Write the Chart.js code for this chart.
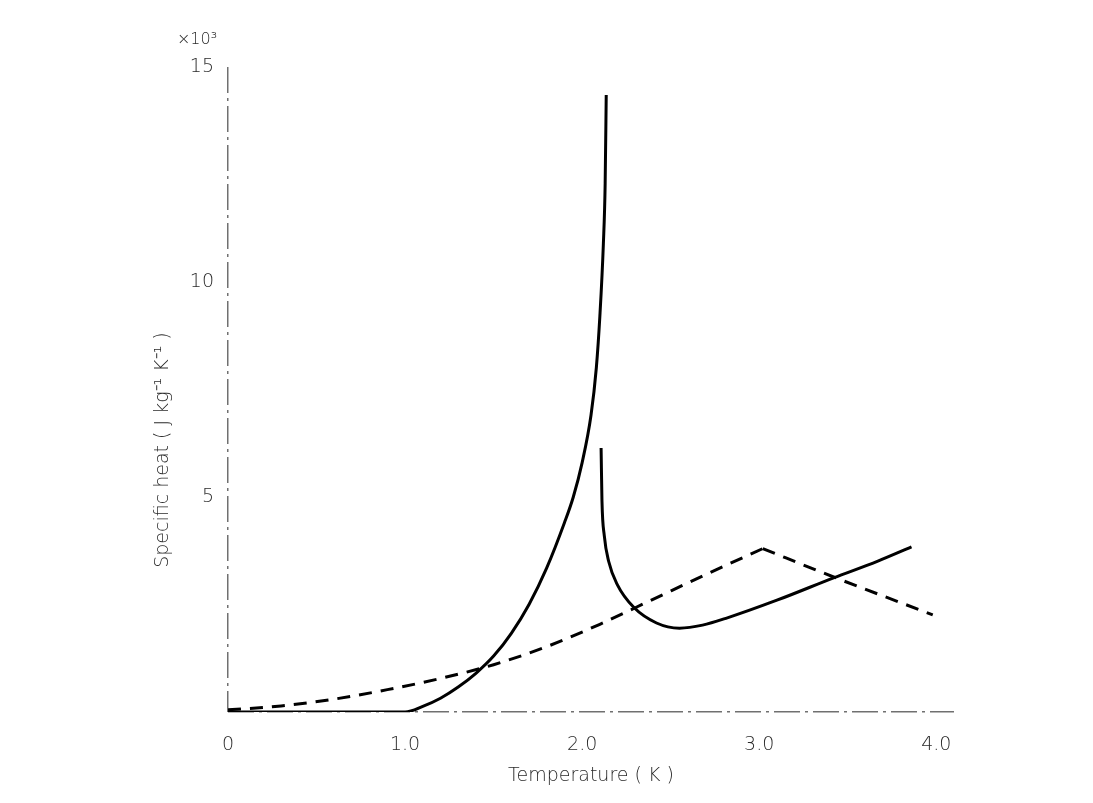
<!DOCTYPE html>
<html>
<head>
<meta charset="utf-8">
<script src="https://cdn.jsdelivr.net/npm/chart.js@4/dist/chart.umd.min.js"></script>
<style>
  html, body { margin: 0; padding: 0; background: #fff; }
  canvas { display: block; }
</style>
</head>
<body>
<canvas id="heatChart" width="1093" height="803"></canvas>
<script>
// Specific heat of liquid helium vs temperature (values in units of 10^3 J kg^-1 K^-1)

// Solid curve below the lambda point
const lowTemps = [0, 0.3, 0.6, 1.0, 1.1, 1.2, 1.3, 1.4, 1.5, 1.6, 1.7, 1.8, 1.9, 1.95, 2.0, 2.05, 2.08, 2.1, 2.12, 2.13, 2.136];
const lowHeat  = [0, 0, 0, 0, 0.13, 0.32, 0.58, 0.9, 1.3, 1.83, 2.5, 3.35, 4.4, 5.0, 5.8, 6.9, 8.0, 9.2, 10.9, 12.3, 14.35];

// Solid curve above the lambda point
const highTemps = [2.107, 2.112, 2.125, 2.15, 2.2, 2.29, 2.42, 2.55, 2.68, 2.82, 3.1, 3.42, 3.67, 3.86];
const highHeat  = [6.14, 4.9, 4.1, 3.5, 2.95, 2.44, 2.07, 1.95, 2.02, 2.19, 2.6, 3.12, 3.51, 3.84];

// Dashed curve: rising part, then falling part after the peak
const dashRiseTemps = [0, 0.3, 0.6, 0.9, 1.2, 1.5, 1.8, 2.1, 2.4, 2.7, 3.02];
const dashRiseHeat  = [0.05, 0.14, 0.3, 0.52, 0.78, 1.1, 1.52, 2.04, 2.62, 3.2, 3.8];
const dashFallTemps = [3.02, 3.42, 3.98];
const dashFallHeat  = [3.8, 3.14, 2.26];

// Axis ticks
const xTicks = [0, 1, 2, 3, 4];
const yTicks = [0, 5, 10, 15];

const TEXT_COLOR = '#2a2a2a';
const AXIS_COLOR = '#707070';
const FONT = '"DejaVu Sans", sans-serif';
const AXIS_DASH = [26, 5, 3, 5];

const toPoints = (xs, ys) => xs.map((x, i) => ({ x: x, y: ys[i] }));

// the axis lines are the dash-dot grid lines at zero
const zeroLine = ctx => (ctx.tick && ctx.tick.value === 0) ? AXIS_COLOR : 'rgba(0,0,0,0)';

function curve(xs, ys, dashed) {
    return {
        data: toPoints(xs, ys),
        borderColor: '#000',
        borderWidth: 3,
        borderDash: dashed ? [13, 9] : [],
        pointRadius: 0,
        cubicInterpolationMode: 'monotone'
    };
}

// y title and the x10^3 multiplier are drawn by hand
const axisText = {
    id: 'axisText',
    afterDraw(chart) {
        const ctx = chart.ctx;
        ctx.save();
        ctx.fillStyle = TEXT_COLOR;
        ctx.textAlign = 'center';
        ctx.textBaseline = 'middle';

        ctx.font = '200 16px ' + FONT;
        ctx.fillText('×10³', 197, 40);

        ctx.translate(163, 450);
        ctx.rotate(-Math.PI / 2);
        ctx.font = '200 19px ' + FONT;
        ctx.fillText('Specific heat ( J kg⁻¹ K⁻¹ )', 0, 0);
        ctx.restore();
    }
};

new Chart(document.getElementById('heatChart'), {
    type: 'line',
    data: {
        datasets: [
            curve(lowTemps, lowHeat, false),
            curve(highTemps, highHeat, false),
            curve(dashRiseTemps, dashRiseHeat, true),
            curve(dashFallTemps, dashFallHeat, true)
        ]
    },
    options: {
        responsive: false,
        animation: false,
        layout: { padding: { left: 0, right: 139, top: 67, bottom: 0 } },
        plugins: { legend: { display: false }, tooltip: { enabled: false } },
        scales: {
            x: {
                type: 'linear',
                min: 0,
                max: 4.1,
                afterBuildTicks: scale => { scale.ticks = xTicks.map(v => ({ value: v })); },
                afterFit: scale => { scale.height = 91; },
                grid: { display: true, drawTicks: false, color: zeroLine, lineWidth: 1.5 },
                border: { display: false, dash: AXIS_DASH },
                ticks: {
                    color: TEXT_COLOR,
                    font: { family: FONT, size: 19, weight: 200 },
                    padding: 22,
                    maxRotation: 0,
                    callback: v => v === 0 ? '0' : v.toFixed(1)
                },
                title: {
                    display: true,
                    text: 'Temperature ( K )',
                    color: TEXT_COLOR,
                    font: { family: FONT, size: 19, weight: 200 },
                    padding: { top: 0, bottom: 16 }
                }
            },
            y: {
                type: 'linear',
                min: 0,
                max: 15,
                afterBuildTicks: scale => { scale.ticks = yTicks.map(v => ({ value: v })); },
                afterFit: scale => { scale.width = 228; },
                grid: { display: true, drawTicks: false, color: zeroLine, lineWidth: 1.5 },
                border: { display: false, dash: AXIS_DASH },
                ticks: {
                    color: TEXT_COLOR,
                    font: { family: FONT, size: 19, weight: 200 },
                    padding: 14,
                    callback: v => v === 0 ? '' : String(v)
                }
            }
        }
    },
    plugins: [axisText]
});
</script>
</body>
</html>
